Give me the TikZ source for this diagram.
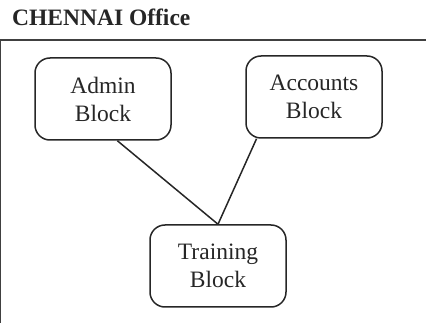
\documentclass[tikz,border=0pt]{standalone}
\usepackage{fontspec}
\setmainfont{Liberation Serif}
\usepackage{tikz}
\usetikzlibrary{positioning}

\begin{document}
\begin{tikzpicture}[
  x=1pt, y=-1pt,
  officebox/.style={rectangle, draw=black!85, line width=1.5pt, rounded corners=15pt, minimum width=136pt, minimum height=82pt, align=center, font=\fontsize{23.5}{28}\selectfont, text=black!85},
  link/.style={draw=black!85, line width=1.5pt},
]
\useasboundingbox (0,0) rectangle (426,323);

% Title and frame
\node[font=\bfseries\fontsize{23.5}{28}\selectfont, text=black!85, anchor=base west, inner sep=0pt] (title) at (12,26) {CHENNAI Office};
\coordinate (frametl) at (0.7,40);
\coordinate (frametr) at (426,40);
\coordinate (framebl) at (0.7,323);
\draw[black!75, line width=1.4pt] (framebl) -- (frametl) -- (frametr);

% Blocks
\node[officebox] (admin) at (103,99) {Admin\\Block};
\node[officebox] (accounts) at (314,97) {Accounts\\Block};
\node[officebox] (training) at (218,266) {Training\\Block};

% Cables
\draw[link] (admin.-71) -- (training.north);
\draw[link] (accounts.-144) -- (training.north);
\end{tikzpicture}
\end{document}
